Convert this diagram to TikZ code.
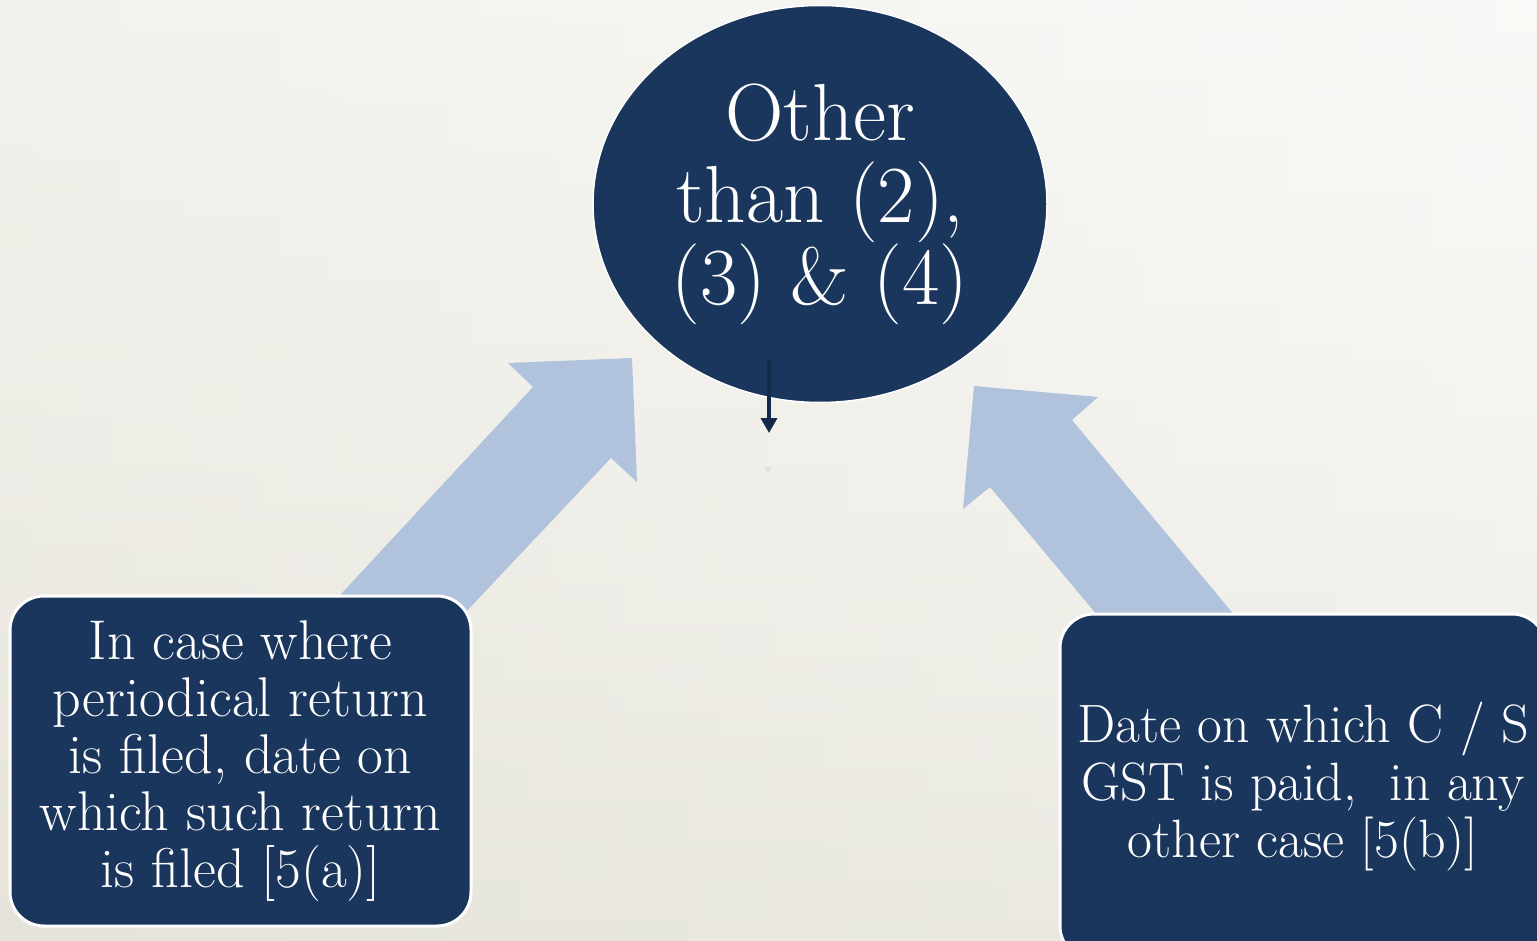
\documentclass[tikz,border=0pt]{standalone}
\usetikzlibrary{shapes.geometric,arrows.meta}
\definecolor{navy}{HTML}{1B365D}
\definecolor{darknavy}{HTML}{13294A}
\definecolor{arrowblue}{HTML}{B1C2DC}
\definecolor{bgtop}{HTML}{F9F9F7}
\definecolor{bgbot}{HTML}{E6E4DA}
\tikzset{
  blockarrow/.style={fill=arrowblue, draw=none},
  casebox/.style={rectangle, rounded corners=34pt, fill=navy, draw=white, line width=3pt,
    text=white, align=center, inner sep=0pt},
  hub/.style={ellipse, fill=navy, draw=white, line width=1.5pt, text=white, align=center,
    inner sep=0pt, minimum width=454pt, minimum height=397pt, font=\fontsize{81}{82}\selectfont},
  pointer/.style={draw=darknavy, line width=3.5pt, -{Triangle[width=16pt,length=15pt]}}
}
\begin{document}
\begin{tikzpicture}[x=1pt,y=-1pt]
\useasboundingbox (0,0) rectangle (1537,941);
\clip (0,0) rectangle (1537,941);
% background
\shade[top color=bgtop, bottom color=bgbot, middle color=bgtop!60!bgbot] (0,0) rectangle (1537,941);
\shade[left color=bgbot, right color=bgtop, opacity=0.35] (0,0) rectangle (1537,941);
% block arrows
\path[blockarrow] (304,634) -- (533,387) -- (508,363) -- (632,358) -- (637,482) -- (611,458) -- (430,650) -- cycle;
\path[blockarrow] (974,386) -- (1098,397) -- (1072,420) -- (1260,646) -- (1123,646) -- (990,487) -- (963,509) -- cycle;
% boxes
\node[casebox, minimum width=461pt, minimum height=330pt, font=\fontsize{56}{57}\selectfont] (left) at (240.5,761)
  {In case where\\periodical return\\is filed, date on\\which such return\\is filed [5(a)]};
\node[casebox, minimum width=486pt, minimum height=346pt, font=\fontsize{54}{57.5}\selectfont] (right) at (1303,787)
  {Date on which C / S\\GST is paid,\ \ in any\\other case [5(b)]};
% hub
\node[hub] (hub) at (820,204) {Other\\than (2),\\(3) \& (4)};
% small pointer
\coordinate (ptop) at (769,360);
\coordinate (pend) at (769,433);
\draw[pointer] (ptop) -- (pend);
\coordinate (mark) at (768,470);
\fill[black!12] ([xshift=-3pt,yshift=3pt]mark) -- ([yshift=-4pt]mark) -- ([xshift=3pt,yshift=3pt]mark) -- cycle;
\end{tikzpicture}
\end{document}
